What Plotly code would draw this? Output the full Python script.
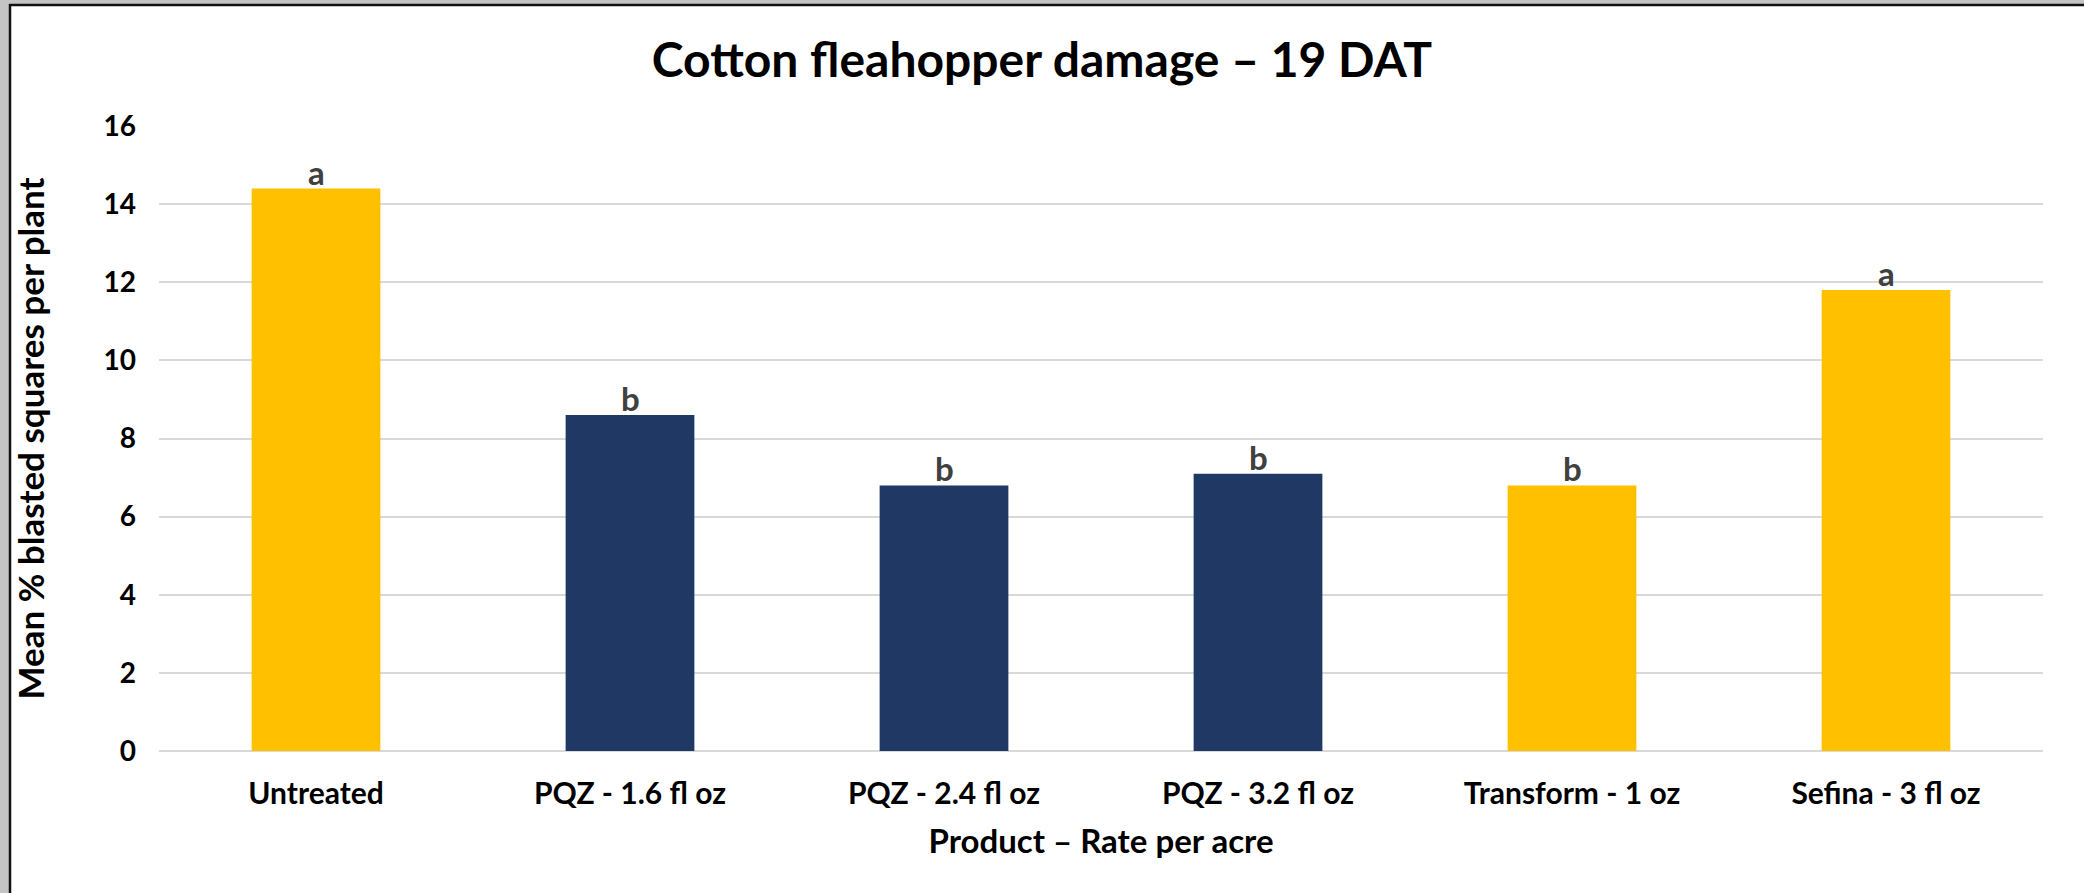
import plotly.graph_objects as go

categories = ["Untreated", "PQZ - 1.6 fl oz", "PQZ - 2.4 fl oz", "PQZ - 3.2 fl oz", "Transform - 1 oz", "Sefina - 3 fl oz"]
values = [14.4, 8.6, 6.8, 7.1, 6.8, 11.8]
letters = ["a", "b", "b", "b", "b", "a"]
colors = ["#FFC000", "#203864", "#203864", "#203864", "#FFC000", "#FFC000"]

W, H = 2084, 893
ML, MR, MT, MB = 159, 41, 126, 142
PW, PH = W - ML - MR, H - MT - MB

def px_x(p):
    return (p - ML) / PW

def px_y(p):
    return (H - MB - p) / PH

FONT = "Lato, 'Liberation Sans', Arial, sans-serif"

fig = go.Figure(
    go.Bar(
        x=categories,
        y=values,
        marker=dict(color=colors, line=dict(width=0)),
        hoverinfo="x+y",
    )
)

for cat, val, let in zip(categories, values, letters):
    fig.add_annotation(
        x=cat, y=val, xref="x", yref="y",
        text=f"<b>{let}</b>",
        showarrow=False,
        yanchor="bottom",
        yshift=-5,
        font=dict(family=FONT, size=33, color="#404040"),
    )

gray = "#c4c4c4"
shapes = [
    dict(type="rect", xref="paper", yref="paper", x0=px_x(0), x1=px_x(9), y0=px_y(H), y1=px_y(0),
         fillcolor=gray, line=dict(width=0), layer="above"),
    dict(type="rect", xref="paper", yref="paper", x0=px_x(0), x1=px_x(W), y0=px_y(4), y1=px_y(0),
         fillcolor=gray, line=dict(width=0), layer="above"),
    dict(type="line", xref="paper", yref="paper", x0=px_x(10), x1=px_x(10), y0=px_y(H), y1=px_y(4),
         line=dict(color="#111111", width=2.5), layer="above"),
    dict(type="line", xref="paper", yref="paper", x0=px_x(9), x1=px_x(W), y0=px_y(5), y1=px_y(5),
         line=dict(color="#111111", width=2.5), layer="above"),
]

fig.update_layout(
    width=W,
    height=H,
    margin=dict(l=ML, r=MR, t=MT, b=MB, pad=0),
    paper_bgcolor="white",
    plot_bgcolor="white",
    showlegend=False,
    bargap=0.59,
    font=dict(family=FONT, color="black"),
    title=dict(
        text="<b>Cotton fleahopper damage – 19 DAT</b>",
        font=dict(family=FONT, size=48, color="black"),
        x=0.5,
        xref="container",
        xanchor="center",
        y=1 - 60 / H,
        yref="container",
        yanchor="middle",
    ),
    xaxis=dict(
        showgrid=False,
        showline=False,
        zeroline=False,
        ticks="",
        tickfont=dict(family=FONT, size=30, color="black"),
        ticklabelstandoff=22,
        title=dict(text="<b>Product – Rate per acre</b>", font=dict(family=FONT, size=33, color="black"), standoff=20),
        tickprefix="<b>",
        ticksuffix="</b>",
    ),
    yaxis=dict(
        range=[0, 16],
        dtick=2,
        showgrid=True,
        gridcolor="#d9d9d9",
        gridwidth=2,
        zeroline=True,
        zerolinecolor="#d9d9d9",
        zerolinewidth=2,
        showline=False,
        ticks="",
        tickfont=dict(family=FONT, size=28, color="black"),
        tickprefix="<b>",
        ticksuffix="</b>",
        ticklabelstandoff=22,
        title=dict(text="<b>Mean % blasted squares per plant</b>", font=dict(family=FONT, size=35, color="black"), standoff=48),
    ),
    shapes=shapes,
)

fig.write_html(
    "out.html",
    config={"displayModeBar": False},
    post_script="document.body.style.margin='0';document.body.style.overflow='hidden';",
)
